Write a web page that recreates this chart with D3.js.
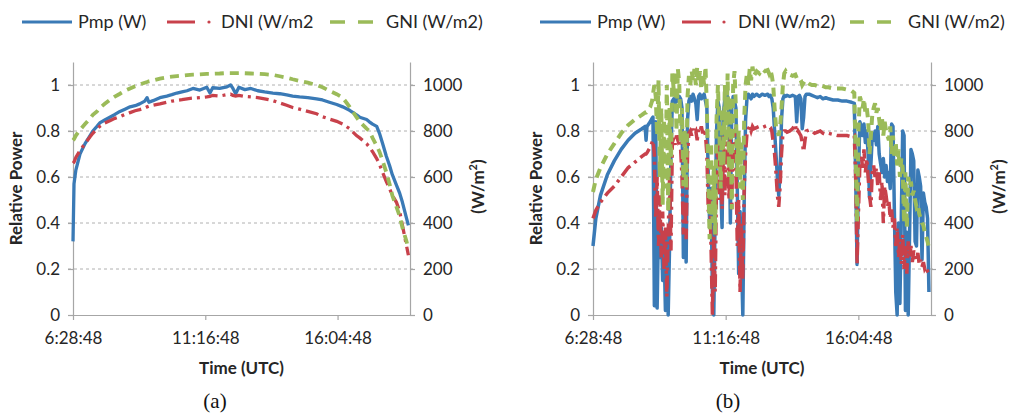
<!DOCTYPE html>
<html><head><meta charset="utf-8">
<script src="https://cdn.jsdelivr.net/npm/d3@7"></script>
<style>body{margin:0;background:#fff}svg{display:block}</style>
</head><body>
<svg id="c" width="1013" height="414"></svg>
<script>
// ---------- data ----------
const xTickLabels = ["6:28:48", "11:16:48", "16:04:48"];
const leftTicks = [0, 0.2, 0.4, 0.6, 0.8, 1];
const rightTicks = [0, 200, 400, 600, 800, 1000];
const namesA = ["Pmp (W)", "DNI (W/m2", "GNI (W/m2)"];
const namesB = ["Pmp (W)", "DNI (W/m2)", "GNI (W/m2)"];
const panelLabels = ["(a)", "(b)"];

// (a) clear day
const timesA = ["6:28:48","6:31","6:35","6:44","6:55","7:06","7:12","7:21","7:27","7:38","7:49","8:00","8:11","8:22","8:33","8:44","8:54","9:05","9:10","9:14","9:23","9:38","9:53","10:04","10:15","10:26","10:37","10:50","11:05","11:20","11:27","11:33","11:48","12:04","12:12","12:17","12:23","12:30","12:43","12:56","13:11","13:26","13:44","13:59","14:14","14:27","14:42","15:00","15:19","15:32","15:47","16:03","16:16","16:31","16:46","16:53","17:08","17:14","17:21","17:30","17:36","17:43","17:51","17:58","18:04","18:13","18:20","18:26","18:35","18:39"];
const pmpA = [0.32,0.57,0.63,0.70,0.745,0.78,0.80,0.82,0.835,0.848,0.86,0.872,0.885,0.895,0.905,0.91,0.918,0.93,0.945,0.925,0.932,0.945,0.952,0.958,0.965,0.97,0.975,0.985,0.978,0.99,0.965,0.988,0.985,0.992,1.0,0.985,0.962,0.99,0.98,0.985,0.975,0.97,0.965,0.962,0.957,0.952,0.948,0.945,0.94,0.935,0.925,0.915,0.905,0.89,0.87,0.86,0.85,0.84,0.83,0.82,0.79,0.745,0.69,0.65,0.61,0.565,0.53,0.49,0.42,0.39];
const dniA = [660,665,685,715,745,775,790,810,820,835,845,855,862,872,880,888,893,900,905,908,912,918,925,930,933,936,940,943,945,948,950,955,952,958,960,955,952,955,950,948,945,940,932,922,912,902,895,885,875,862,852,842,830,810,780,770,745,730,710,680,655,620,580,550,520,490,450,390,300,260];
const gniA = [760,765,780,805,830,855,870,885,900,918,935,950,962,975,985,995,1002,1010,1013,1016,1020,1028,1033,1036,1039,1041,1043,1045,1046,1048,1048,1049,1050,1052,1052,1052,1052,1052,1051,1050,1049,1047,1044,1038,1032,1025,1018,1010,1000,990,975,960,945,905,860,840,810,800,770,735,710,670,620,570,520,470,430,380,320,285];

// (b) cloudy day
const timesB = ["6:28:48","6:35","6:45","7:00","7:15","7:30","7:45","8:00","8:15","8:22","8:24","8:26","8:33","8:37",
"8:39","8:42","8:45","8:48","8:51","8:54","8:57","9:00","9:03","9:06","9:09","9:12","9:15","9:18","9:21","9:24","9:27","9:30","9:33","9:36","9:39","9:42","9:45","9:48","9:51","9:54","9:57",
"10:00","10:03","10:06","10:09","10:12","10:15","10:18","10:21","10:24","10:27","10:30","10:33","10:36","10:39","10:42","10:45","10:48","10:51","10:54","10:57",
"11:00","11:03","11:06","11:09","11:12","11:15","11:18","11:21","11:24","11:27","11:30","11:33","11:36","11:39","11:42","11:45","11:48","11:51","11:54","11:57",
"12:00","12:03","12:06","12:09","12:12","12:15","12:18","12:24","12:30","12:36","12:42","12:48","12:51","12:54","12:57",
"13:00","13:03","13:06","13:09","13:12","13:15","13:18","13:21","13:24","13:27","13:30","13:36","13:42","13:48","13:51","13:54","13:57",
"14:00","14:03","14:06","14:09","14:12","14:18","14:24","14:30","14:36","14:42","14:48","14:54","15:00","15:10","15:20","15:30","15:40","15:50","15:56","15:59",
"16:02","16:05","16:08","16:11","16:14","16:17","16:20","16:23","16:26","16:29","16:32","16:35","16:38","16:41","16:44","16:47","16:50","16:53","16:56","16:59",
"17:02","17:05","17:08","17:11","17:14","17:17","17:20","17:23","17:26","17:29","17:32","17:35","17:38","17:41","17:44","17:47","17:50","17:53","17:56","17:59",
"18:02","18:05","18:08","18:11","18:14","18:17","18:20","18:23","18:26","18:29","18:32","18:35","18:38"];
const pmpB = [0.30,0.42,0.52,0.61,0.67,0.72,0.76,0.79,0.81,0.82,0.76,0.82,0.84,0.855,
0.86,0.04,0.84,0.03,0.40,0.25,0.38,0.15,0.30,0.02,0.35,0.00,0.30,0.70,0.93,0.94,0.92,0.95,0.93,0.95,0.94,0.90,0.25,0.60,0.23,0.85,0.93,
0.95,0.93,0.96,0.94,0.92,0.85,0.95,0.96,0.94,0.95,0.96,0.93,0.90,0.60,0.40,0.55,0.10,0.00,0.45,0.80,
0.93,0.90,0.55,0.38,0.88,0.94,0.92,0.95,0.85,0.40,0.90,0.95,0.93,0.90,0.55,0.18,0.45,0.25,0.00,0.50,
0.85,0.94,0.96,0.95,0.94,0.96,0.95,0.96,0.95,0.96,0.955,0.96,0.95,0.955,0.94,
0.90,0.80,0.70,0.60,0.52,0.62,0.85,0.94,0.955,0.95,0.955,0.95,0.955,0.95,0.84,0.95,0.955,
0.94,0.81,0.86,0.95,0.96,0.96,0.955,0.95,0.945,0.95,0.94,0.945,0.94,0.935,0.935,0.93,0.93,0.925,0.92,0.60,
0.22,0.60,0.84,0.82,0.78,0.83,0.75,0.80,0.70,0.51,0.65,0.78,0.76,0.80,0.74,0.82,0.70,0.66,0.62,0.68,
0.60,0.65,0.58,0.62,0.55,0.83,0.82,0.45,0.10,0.00,0.40,0.05,0.42,0.80,0.78,0.02,0.36,0.00,0.35,0.72,
0.70,0.67,0.32,0.30,0.63,0.60,0.56,0.24,0.53,0.49,0.47,0.42,0.10];
const dniB = [420,455,490,530,560,600,640,665,690,700,700,705,730,750,
760,700,420,600,300,520,250,450,200,380,80,350,600,280,750,770,740,780,760,780,720,600,350,500,330,700,790,
800,780,810,790,800,760,810,800,820,790,810,780,700,450,550,300,0,350,100,600,
750,500,700,460,780,520,800,700,500,780,460,790,800,650,300,500,100,400,150,550,
700,790,810,820,800,820,810,815,820,815,820,825,820,815,800,
750,700,620,520,470,560,700,790,800,800,795,800,810,830,790,800,790,
780,750,710,760,800,805,800,790,795,800,790,785,790,785,780,780,780,775,780,600,
220,450,650,700,640,720,620,680,600,520,470,620,650,600,640,560,620,500,580,400,
560,520,470,500,420,460,380,420,300,380,250,330,220,350,200,300,180,320,250,300,
230,280,260,240,270,220,240,210,230,200,210,190,180];
const gniB = [535,590,640,700,745,790,825,850,870,880,880,885,905,930,
960,1000,950,780,1020,600,900,480,850,550,1000,450,900,650,1050,980,1060,800,1070,1010,750,900,560,800,550,950,1040,
1000,1060,1020,1070,1000,1080,1010,1060,980,1050,1000,1080,900,600,330,750,400,650,350,850,
1000,800,550,900,650,1000,750,1050,600,950,460,1000,1060,900,600,800,550,750,500,850,
1000,1050,1000,1070,1020,1080,1040,1060,1050,1070,1060,1065,1050,1065,1040,
1000,900,820,800,780,820,900,1000,1050,1060,1050,1045,1040,1045,1030,1035,1030,
1020,1000,1010,1020,1015,1005,1000,1000,995,1000,995,990,990,985,985,985,980,975,965,700,
400,800,950,930,900,940,880,900,850,700,780,870,900,920,880,900,850,800,860,780,
840,800,780,760,820,700,780,680,750,650,720,600,680,640,400,620,380,600,560,580,
520,540,500,470,480,440,420,400,390,360,340,320,290];

// ---------- drawing ----------
const svg = d3.select("#c");
const FONT = "Lato, 'Open Sans', sans-serif";
const C = {pmp: "#3a7ab6", dni: "#c8414b", gni: "#9bbb59", axis: "#a6a6a6", text: "#262626"};
const parse = s => { const p = s.split(":").map(Number); return new Date(2000, 0, 1, p[0], p[1], p[2] || 0); };
const Y_TOP = 62, Y_BOT = 315;

function legend(items) {
  const g = svg.append("g");
  items.forEach(it => {
    if (it.type === "solid") {
      g.append("line").attr("x1", it.a).attr("x2", it.b).attr("y1", 22).attr("y2", 22)
        .attr("stroke", C.pmp).attr("stroke-width", 3);
    } else if (it.type === "dashdot") {
      g.append("line").attr("x1", it.a).attr("x2", it.b).attr("y1", 22).attr("y2", 22)
        .attr("stroke", C.dni).attr("stroke-width", 3);
      g.append("circle").attr("cx", it.c).attr("cy", 22).attr("r", 1.6).attr("fill", C.dni);
    } else if (it.type === "dash") {
      g.append("line").attr("x1", it.a).attr("x2", it.b).attr("y1", 22).attr("y2", 22)
        .attr("stroke", C.gni).attr("stroke-width", 3.5).attr("stroke-dasharray", it.dash);
    } else {
      g.append("text").attr("x", it.a).attr("y", 28).text(it.t)
        .attr("font-family", FONT).attr("font-size", 18).attr("fill", C.text);
    }
  });
}

function panel(o) {
  const x = d3.scaleTime().domain([parse("6:28:48"), parse("18:42:30")]).range([o.x0, o.x1]);
  const yL = d3.scaleLinear().domain([0, 1.1]).range([Y_BOT, Y_TOP]);
  const yR = d3.scaleLinear().domain([0, 1100]).range([Y_BOT, Y_TOP]);
  const g = svg.append("g");

  g.append("g").selectAll("line").data(leftTicks.filter(d => d > 0)).join("line")
    .attr("x1", o.x0 - 5).attr("x2", o.x1 + 5).attr("y1", d => yL(d)).attr("y2", d => yL(d))
    .attr("stroke", "#b0b0b0").attr("stroke-width", 1).attr("stroke-dasharray", "3,3");

  const styleAxis = sel => {
    sel.selectAll("path, line").attr("stroke", C.axis).attr("stroke-width", 1.2);
    sel.selectAll("text").attr("font-family", FONT).attr("font-size", 17).attr("fill", C.text);
  };
  g.append("g").attr("transform", `translate(${o.x0},0)`)
    .call(d3.axisLeft(yL).tickValues(leftTicks).tickFormat(d => String(d)).tickSize(5).tickSizeOuter(0).tickPadding(8))
    .call(styleAxis);
  g.append("g").attr("transform", `translate(${o.x1},0)`)
    .call(d3.axisRight(yR).tickValues(rightTicks).tickFormat(d => String(d)).tickSize(5).tickSizeOuter(0).tickPadding(8))
    .call(styleAxis);
  g.append("g").attr("transform", `translate(0,${Y_BOT})`)
    .call(d3.axisBottom(x).tickValues(xTickLabels.map(parse)).tickFormat((d, i) => xTickLabels[i]).tickSize(5).tickSizeOuter(0).tickPadding(12))
    .call(styleAxis);

  const mk = vals => o.times.map((t, i) => [parse(t), vals[i]]);
  const line = y => d3.line().x(d => x(d[0])).y(d => y(d[1]));
  g.append("path").datum(mk(o.pmp)).attr("d", line(yL)).attr("fill", "none")
    .attr("stroke", C.pmp).attr("stroke-width", o.w).attr("stroke-linejoin", "round");
  g.append("path").datum(mk(o.dni)).attr("d", line(yR)).attr("fill", "none")
    .attr("stroke", C.dni).attr("stroke-width", o.w).attr("stroke-dasharray", "13,5,3,5");
  g.append("path").datum(mk(o.gni)).attr("d", line(yR)).attr("fill", "none")
    .attr("stroke", C.gni).attr("stroke-width", o.w + 0.5).attr("stroke-dasharray", "9,6");

  const cy = (Y_TOP + Y_BOT) / 2;
  g.append("text").attr("transform", `translate(${o.x0 - 51},${cy}) rotate(-90)`)
    .attr("text-anchor", "middle").attr("font-family", FONT).attr("font-weight", "bold")
    .attr("font-size", 17).attr("fill", C.text).text("Relative Power");
  const wt = g.append("text").attr("transform", `translate(${o.x1 + 74},${cy - 2}) rotate(-90)`)
    .attr("text-anchor", "middle").attr("font-family", FONT).attr("font-weight", "bold")
    .attr("font-size", 17).attr("fill", C.text);
  wt.append("tspan").text("(W/m");
  wt.append("tspan").attr("font-size", 11).attr("dy", -7).text("2");
  wt.append("tspan").attr("dy", 7).text(")");
  g.append("text").attr("x", (o.x0 + o.x1) / 2).attr("y", 374).attr("text-anchor", "middle")
    .attr("font-family", FONT).attr("font-weight", "bold").attr("font-size", 17).attr("fill", C.text)
    .text("Time (UTC)");
  g.append("text").attr("x", o.labelX).attr("y", 408).attr("text-anchor", "middle")
    .attr("font-family", "'Liberation Serif', 'DejaVu Serif', serif").attr("font-size", 21).attr("fill", "#111")
    .text(o.label);
}

legend([
  {type: "solid", a: 22, b: 72}, {type: "text", a: 78, t: namesA[0]},
  {type: "dashdot", a: 167, b: 195, c: 209}, {type: "text", a: 221, t: namesA[1]},
  {type: "dash", a: 330, b: 373, dash: "15,13"}, {type: "text", a: 386, t: namesA[2]}
]);
legend([
  {type: "solid", a: 540, b: 591}, {type: "text", a: 597, t: namesB[0]},
  {type: "dashdot", a: 682, b: 711, c: 724}, {type: "text", a: 738, t: namesB[1]},
  {type: "dash", a: 850, b: 893, dash: "14,13"}, {type: "text", a: 908, t: namesB[2]}
]);

panel({x0: 73, x1: 410, times: timesA, pmp: pmpA, dni: dniA, gni: gniA, label: panelLabels[0], labelX: 215, w: 3.3});
panel({x0: 593, x1: 931, times: timesB, pmp: pmpB, dni: dniB, gni: gniB, label: panelLabels[1], labelX: 728, w: 3.5});
</script>
</body></html>
